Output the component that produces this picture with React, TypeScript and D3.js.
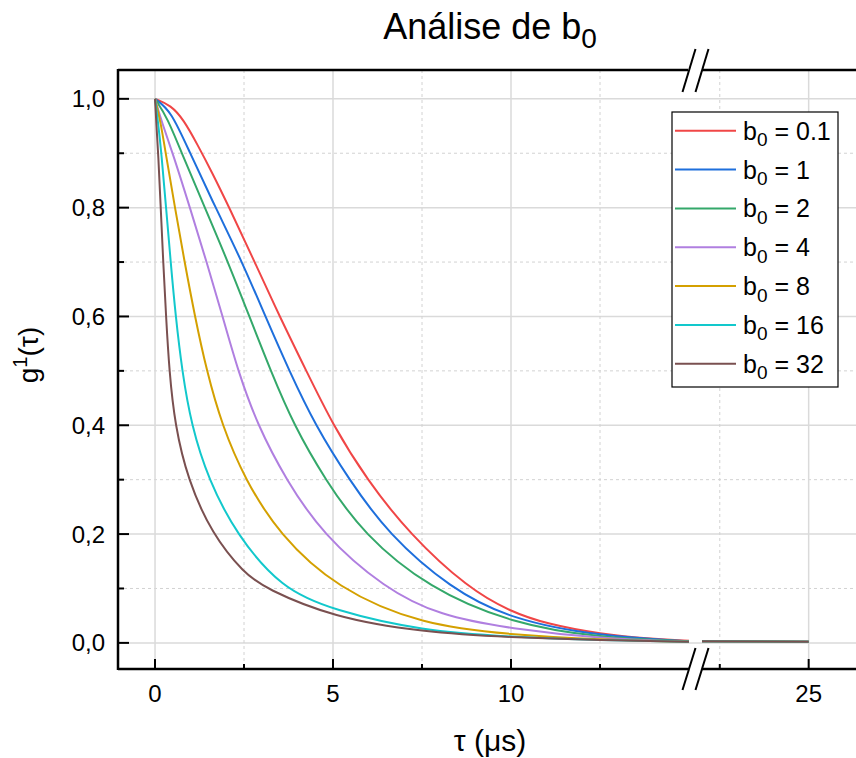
import React from "react";
import * as d3 from "d3";

// ---- data ----
const seriesLabels = ["0.1", "1", "2", "4", "8", "16", "32"];
const seriesColors = ["#F04646", "#1E6FDC", "#34A86A", "#B07FE0", "#D4A000", "#12C8CC", "#7A5050"];

const b01: [number, number][] = [[0, 1], [0.45, 0.988], [0.8, 0.962], [1.2, 0.915], [1.6, 0.865], [2.05, 0.805], [2.8, 0.7], [3.5, 0.6], [4.25, 0.5], [5.0, 0.4], [5.95, 0.3], [7.15, 0.2], [8.8, 0.1], [10, 0.057], [11, 0.035], [12.5, 0.016], [14, 0.007], [15, 0.004], [22, 0.003], [25, 0.002]];
const b1: [number, number][] = [[0, 1], [0.45, 0.978], [0.95, 0.905], [1.7, 0.8], [2.45, 0.7], [3.1, 0.6], [3.77, 0.5], [4.5, 0.4], [5.45, 0.3], [6.55, 0.2], [8.3, 0.1], [10, 0.043], [12.5, 0.012], [15, 0.003], [22, 0.003], [25, 0.002]];
const b2: [number, number][] = [[0, 1], [0.35, 0.965], [0.75, 0.9], [1.4, 0.8], [2.05, 0.7], [2.65, 0.6], [3.25, 0.5], [3.9, 0.4], [4.78, 0.3], [5.85, 0.2], [7.7, 0.1], [10, 0.036], [12.5, 0.009], [15, 0.003], [22, 0.003], [25, 0.002]];
const b4: [number, number][] = [[0, 1], [0.2, 0.955], [0.5, 0.9], [0.98, 0.8], [1.45, 0.7], [1.9, 0.6], [2.33, 0.5], [2.88, 0.4], [3.68, 0.3], [4.7, 0.2], [6.45, 0.1], [8, 0.05], [10, 0.026], [12.5, 0.008], [15, 0.002], [22, 0.003], [25, 0.002]];
const b8: [number, number][] = [[0, 1], [0.15, 0.96], [0.3, 0.9], [0.56, 0.8], [0.83, 0.7], [1.12, 0.6], [1.45, 0.5], [1.88, 0.4], [2.53, 0.3], [3.48, 0.2], [5.1, 0.1], [7.5, 0.033], [10, 0.015], [12.5, 0.006], [15, 0.002], [22, 0.003], [25, 0.002]];
const b16: [number, number][] = [[0, 1], [0.08, 0.96], [0.18, 0.9], [0.31, 0.8], [0.44, 0.7], [0.58, 0.6], [0.76, 0.5], [1.02, 0.4], [1.5, 0.3], [2.28, 0.2], [3.55, 0.1], [5, 0.06], [7.5, 0.022], [10, 0.011], [12.5, 0.005], [15, 0.002], [22, 0.003], [25, 0.002]];
const b32: [number, number][] = [[0, 1], [0.04, 0.95], [0.09, 0.9], [0.16, 0.8], [0.23, 0.7], [0.31, 0.6], [0.4, 0.5], [0.56, 0.4], [0.92, 0.3], [1.6, 0.2], [2.5, 0.128], [3.1, 0.1], [5, 0.047], [7.5, 0.02], [10, 0.01], [12.5, 0.005], [15, 0.002], [22, 0.003], [25, 0.002]];
const seriesData = [b01, b1, b2, b4, b8, b16, b32];

const xMajorTicks1 = [0, 5, 10];
const xMinorTicks1 = [2.5, 7.5, 12.5];
const xMajorTicks2 = [25];
const xMinorTicks2 = [22.5];
const yMajorTicks = [0, 0.2, 0.4, 0.6, 0.8, 1.0];
const yMinorTicks = [0.1, 0.3, 0.5, 0.7, 0.9];

const FONT = "'Liberation Sans', Arial, Helvetica, sans-serif";

export default function App() {
  const W = 856, H = 758;
  const left = 118, top = 70, bottom = 669, right = 862;
  const x1 = d3.scaleLinear().domain([-1.04, 15]).range([left, 689]);
  const x2 = d3.scaleLinear().domain([22, 26.5]).range([702, right]);
  const y = d3.scaleLinear().domain([-0.048, 1.053]).range([bottom, top]);

  const line1 = d3.line<[number, number]>().x(d => x1(d[0])).y(d => y(d[1])).curve(d3.curveBasis);
  const line2 = d3.line<[number, number]>().x(d => x2(d[0])).y(d => y(d[1])).curve(d3.curveBasis);

  const gridMajor = "#dadada";
  const gridMinor = "#d2d2d2";
  const bx1 = x1(15), bx2 = x2(22);

  return (
    <svg width={W} height={H} style={{ position: "absolute", left: 0, top: 0, display: "block", background: "#fff" }}>
      <defs>
        <clipPath id="plotclip"><rect x={left} y={top} width={right - left} height={bottom - top} /></clipPath>
      </defs>
      {/* grid */}
      {yMinorTicks.map(t => (
        <line key={"ygm" + t} x1={left} x2={W} y1={y(t)} y2={y(t)} stroke={gridMinor} strokeWidth={1} strokeDasharray="3,3" />
      ))}
      {yMajorTicks.map(t => (
        <line key={"ygM" + t} x1={left} x2={W} y1={y(t)} y2={y(t)} stroke={gridMajor} strokeWidth={1.5} />
      ))}
      {xMinorTicks1.map(t => (
        <line key={"xgm1" + t} x1={x1(t)} x2={x1(t)} y1={top} y2={bottom} stroke={gridMinor} strokeWidth={1} strokeDasharray="3,3" />
      ))}
      {xMinorTicks2.map(t => (
        <line key={"xgm2" + t} x1={x2(t)} x2={x2(t)} y1={top} y2={bottom} stroke={gridMinor} strokeWidth={1} strokeDasharray="3,3" />
      ))}
      {xMajorTicks1.map(t => (
        <line key={"xgM1" + t} x1={x1(t)} x2={x1(t)} y1={top} y2={bottom} stroke={gridMajor} strokeWidth={1.5} />
      ))}
      {xMajorTicks2.map(t => (
        <line key={"xgM2" + t} x1={x2(t)} x2={x2(t)} y1={top} y2={bottom} stroke={gridMajor} strokeWidth={1.5} />
      ))}

      {/* curves */}
      <g clipPath="url(#plotclip)">
        {seriesData.map((s, i) => (
          <g key={"s" + i}>
            <path d={line1(s.filter(d => d[0] <= 15)) || ""} fill="none" stroke={seriesColors[i]} strokeWidth={2} />
            <path d={line2(s.filter(d => d[0] >= 22)) || ""} fill="none" stroke={seriesColors[i]} strokeWidth={2} />
          </g>
        ))}
      </g>

      {/* axes */}
      <line x1={left} x2={left} y1={top - 1} y2={bottom + 1} stroke="#000" strokeWidth={2.5} />
      <line x1={left} x2={bx1} y1={bottom} y2={bottom} stroke="#000" strokeWidth={2.5} />
      <line x1={bx2} x2={W} y1={bottom} y2={bottom} stroke="#000" strokeWidth={2.5} />
      <line x1={left} x2={bx1 - 1} y1={top} y2={top} stroke="#000" strokeWidth={2.5} />
      <line x1={bx2} x2={W} y1={top} y2={top} stroke="#000" strokeWidth={2.5} />

      {/* break marks */}
      {[bx1, bx2].map((bx, i) => (
        <g key={"br" + i}>
          <line x1={bx + 6.5} y1={top - 21} x2={bx - 6.5} y2={top + 22} stroke="#000" strokeWidth={2} />
          <line x1={bx + 6.5} y1={bottom - 21} x2={bx - 6.5} y2={bottom + 21} stroke="#000" strokeWidth={2} />
        </g>
      ))}

      {/* ticks */}
      {yMajorTicks.map(t => (
        <line key={"yt" + t} x1={left} x2={left + 11} y1={y(t)} y2={y(t)} stroke="#000" strokeWidth={2} />
      ))}
      {yMinorTicks.map(t => (
        <line key={"ytm" + t} x1={left} x2={left + 6} y1={y(t)} y2={y(t)} stroke="#000" strokeWidth={2} />
      ))}
      {xMajorTicks1.map(t => (
        <line key={"xt1" + t} x1={x1(t)} x2={x1(t)} y1={bottom} y2={bottom - 10} stroke="#000" strokeWidth={2} />
      ))}
      {xMinorTicks1.map(t => (
        <line key={"xtm1" + t} x1={x1(t)} x2={x1(t)} y1={bottom} y2={bottom - 5} stroke="#000" strokeWidth={2} />
      ))}
      {xMajorTicks2.map(t => (
        <line key={"xt2" + t} x1={x2(t)} x2={x2(t)} y1={bottom} y2={bottom - 10} stroke="#000" strokeWidth={2} />
      ))}
      {xMinorTicks2.map(t => (
        <line key={"xtm2" + t} x1={x2(t)} x2={x2(t)} y1={bottom} y2={bottom - 5} stroke="#000" strokeWidth={2} />
      ))}

      {/* tick labels */}
      {yMajorTicks.map(t => (
        <text key={"yl" + t} x={105} y={y(t) + 8.5} textAnchor="end" fontFamily={FONT} fontSize={24} fill="#000">
          {t.toFixed(1).replace(".", ",")}
        </text>
      ))}
      {xMajorTicks1.map(t => (
        <text key={"xl1" + t} x={x1(t)} y={702} textAnchor="middle" fontFamily={FONT} fontSize={24} fill="#000">{String(t)}</text>
      ))}
      {xMajorTicks2.map(t => (
        <text key={"xl2" + t} x={x2(t)} y={702} textAnchor="middle" fontFamily={FONT} fontSize={24} fill="#000">{String(t)}</text>
      ))}

      {/* axis titles */}
      <text x={490} y={751} textAnchor="middle" fontFamily={FONT} fontSize={30} fill="#000">τ (μs)</text>
      <text transform="translate(38,355) rotate(-90)" textAnchor="middle" fontFamily={FONT} fontSize={28} fill="#000">
        g<tspan dy={-11} fontSize={20}>1</tspan><tspan dy={11}>(τ)</tspan>
      </text>

      {/* title */}
      <text x={490} y={39} textAnchor="middle" fontFamily={FONT} fontSize={36} fill="#000">
        Análise de b<tspan dy={9} fontSize={28}>0</tspan>
      </text>

      {/* legend */}
      <rect x={672} y={112} width={166} height={275} fill="#fff" stroke="#000" strokeWidth={1.2} />
      {seriesLabels.map((lab, i) => {
        const cy = 130.7 + i * 38.85;
        return (
          <g key={"lg" + i}>
            <line x1={675} x2={736} y1={cy} y2={cy} stroke={seriesColors[i]} strokeWidth={2} />
            <text x={743} y={cy + 9} fontFamily={FONT} fontSize={25} fill="#000">
              b<tspan dy={6.5} fontSize={19}>0</tspan><tspan dy={-6.5}>{" = " + lab}</tspan>
            </text>
          </g>
        );
      })}
    </svg>
  );
}
